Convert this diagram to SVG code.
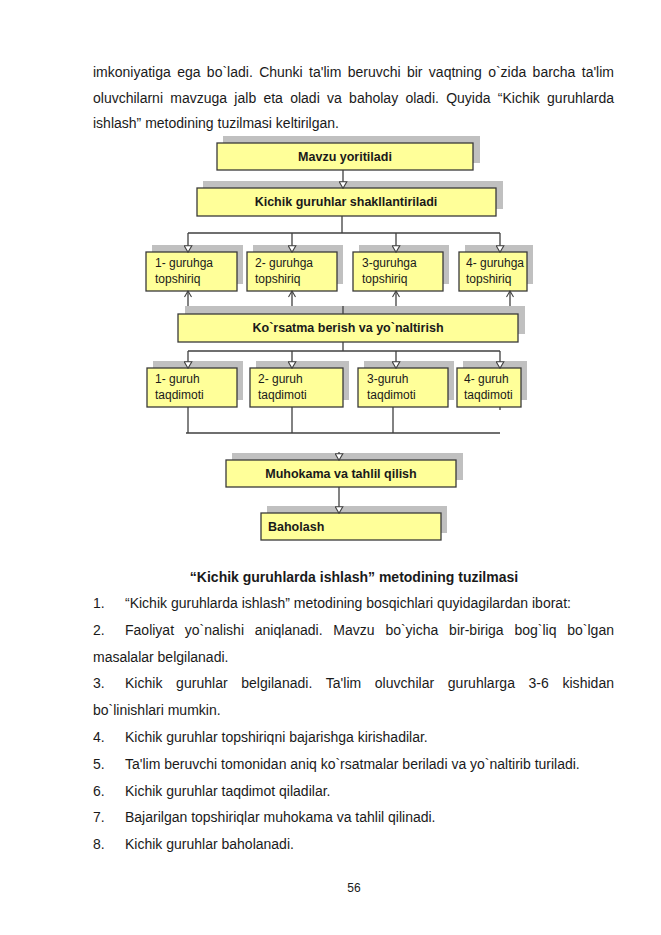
<svg xmlns="http://www.w3.org/2000/svg" width="661" height="935" viewBox="0 0 661 935">
<defs>
<style>
.bg{fill:#ffffff}
.sh{fill:#c0c0c0}
.bx{fill:#ffff99;stroke:#3a3a3a;stroke-width:1.3}
.hd{font-family:"Liberation Sans",Arial,sans-serif;font-size:12.5px;font-weight:bold;fill:#1a1a1a}
.lb{font-family:"Liberation Sans",Arial,sans-serif;font-size:12px;fill:#1a1a1a}
.tx{font-family:"Liberation Sans",Arial,sans-serif;font-size:14px;fill:#1a1a1a}
.cap{font-family:"Liberation Sans",Arial,sans-serif;font-size:14px;font-weight:bold;fill:#1a1a1a}
.ln{fill:none;stroke:#404040;stroke-width:1.3}
</style>
<marker id="ad" markerWidth="9" markerHeight="8" refX="4.5" refY="7" orient="0" markerUnits="userSpaceOnUse" viewBox="0 0 9 8">
<path d="M0.7,0.7 L8.3,0.7 L4.5,7.3 Z" fill="#ffffff" stroke="#404040" stroke-width="1.1"/>
</marker>
<marker id="au" markerWidth="9" markerHeight="8" refX="4.5" refY="1" viewBox="0 0 9 8" markerUnits="userSpaceOnUse" orient="0">
<path d="M1,7 L4.5,1 L8,7" fill="none" stroke="#404040" stroke-width="1.1"/>
</marker>
</defs>
<rect class="bg" x="0" y="0" width="661" height="935"/>

<g id="body-text">
<text class="tx" x="93" y="77" word-spacing="2.5" textLength="521" lengthAdjust="spacing">imkoniyatiga ega bo`ladi. Chunki ta'lim beruvchi bir vaqtning o`zida barcha ta'lim</text>
<text class="tx" x="93" y="103" word-spacing="3.4" textLength="521" lengthAdjust="spacing">oluvchilarni mavzuga jalb eta oladi va baholay oladi. Quyida “Kichik guruhlarda</text>
<text class="tx" x="93" y="128">ishlash” metodining tuzilmasi keltirilgan.</text>
</g>

<g id="n-mavzu">
<rect class="sh" x="223" y="136" width="257" height="27"/>
<rect class="bx" x="217" y="143" width="256" height="27"/>
<text class="hd" x="345" y="161" text-anchor="middle">Mavzu yoritiladi</text>
</g>
<g id="n-kichik">
<rect class="sh" x="203" y="181" width="300" height="28"/>
<rect class="bx" x="197" y="188" width="299" height="28"/>
<text class="hd" x="346" y="206" text-anchor="middle">Kichik guruhlar shakllantiriladi</text>
</g>

<g id="n-g1">
<rect class="sh" x="152" y="245" width="91" height="39"/>
<rect class="bx" x="146" y="252" width="91" height="39"/>
<text class="lb" x="155" y="267">1- guruhga</text>
<text class="lb" x="155" y="283">topshiriq</text>
</g>
<g id="n-g2">
<rect class="sh" x="253" y="245" width="90" height="39"/>
<rect class="bx" x="247" y="252" width="90" height="39"/>
<text class="lb" x="255" y="267">2- guruhga</text>
<text class="lb" x="255" y="283">topshiriq</text>
</g>
<g id="n-g3">
<rect class="sh" x="359" y="245" width="90" height="39"/>
<rect class="bx" x="353" y="252" width="90" height="39"/>
<text class="lb" x="362" y="267">3-guruhga</text>
<text class="lb" x="362" y="283">topshiriq</text>
</g>
<g id="n-g4">
<rect class="sh" x="465" y="245" width="68" height="39"/>
<rect class="bx" x="459" y="252" width="68" height="39"/>
<text class="lb" x="466" y="267">4- guruhga</text>
<text class="lb" x="466" y="283">topshiriq</text>
</g>

<g id="n-korsatma">
<rect class="sh" x="185" y="306" width="340" height="28"/>
<rect class="bx" x="178" y="314" width="340" height="28"/>
<text class="hd" x="348" y="332" text-anchor="middle">Ko`rsatma berish va yo`naltirish</text>
</g>

<g id="n-t1">
<rect class="sh" x="153" y="361" width="90" height="39"/>
<rect class="bx" x="147" y="368" width="90" height="39"/>
<text class="lb" x="155" y="383">1- guruh</text>
<text class="lb" x="155" y="399">taqdimoti</text>
</g>
<g id="n-t2">
<rect class="sh" x="256" y="361" width="93" height="39"/>
<rect class="bx" x="250" y="368" width="93" height="39"/>
<text class="lb" x="258" y="383">2- guruh</text>
<text class="lb" x="258" y="399">taqdimoti</text>
</g>
<g id="n-t3">
<rect class="sh" x="364" y="361" width="90" height="39"/>
<rect class="bx" x="358" y="368" width="90" height="39"/>
<text class="lb" x="367" y="383">3-guruh</text>
<text class="lb" x="367" y="399">taqdimoti</text>
</g>
<g id="n-t4">
<rect class="sh" x="463" y="361" width="64" height="39"/>
<rect class="bx" x="457" y="368" width="64" height="39"/>
<text class="lb" x="464" y="383">4- guruh</text>
<text class="lb" x="464" y="399">taqdimoti</text>
</g>

<g id="n-muhokama">
<rect class="sh" x="232" y="453" width="231" height="27"/>
<rect class="bx" x="226" y="460" width="230" height="27"/>
<text class="hd" x="341" y="478" text-anchor="middle">Muhokama va tahlil qilish</text>
</g>
<g id="n-baholash">
<rect class="sh" x="267" y="506" width="180" height="27"/>
<rect class="bx" x="261" y="513" width="180" height="27"/>
<text class="hd" x="268" y="531">Baholash</text>
</g>

<g id="connectors">
<path class="ln" d="M343,170 V188" marker-end="url(#ad)"/>
<path class="ln" d="M342,216 V233 M188,233 H500"/>
<path class="ln" d="M188,233 V252" marker-end="url(#ad)"/>
<path class="ln" d="M292,233 V252" marker-end="url(#ad)"/>
<path class="ln" d="M396,233 V252" marker-end="url(#ad)"/>
<path class="ln" d="M500,233 V252" marker-end="url(#ad)"/>
<path class="ln" d="M188,306 V291" marker-end="url(#au)"/>
<path class="ln" d="M292,306 V291" marker-end="url(#au)"/>
<path class="ln" d="M396,306 V291" marker-end="url(#au)"/>
<path class="ln" d="M510,306 V291" marker-end="url(#au)"/>
<path class="ln" d="M343,306 V314"/>
<path class="ln" d="M343,342 V351 M188,351 H500"/>
<path class="ln" d="M188,351 V368" marker-end="url(#ad)"/>
<path class="ln" d="M292,351 V368" marker-end="url(#ad)"/>
<path class="ln" d="M396,351 V368" marker-end="url(#ad)"/>
<path class="ln" d="M500,351 V368" marker-end="url(#ad)"/>
<path class="ln" d="M188,407 V433 M292,407 V433 M393,407 V433 M500,407 V410 M186,433 H500"/>
<path class="ln" d="M339,452 V460" marker-end="url(#ad)"/>
<path class="ln" d="M339,487 V513" marker-end="url(#ad)"/>
</g>

<g id="list-text">
<text class="cap" x="354" y="582" text-anchor="middle">“Kichik guruhlarda ishlash” metodining tuzilmasi</text>
<text class="tx" x="93" y="608">1.</text>
<text class="tx" x="125" y="608">“Kichik guruhlarda ishlash” metodining bosqichlari quyidagilardan iborat:</text>
<text class="tx" x="93" y="635">2.</text>
<text class="tx" x="125" y="635" word-spacing="6.9" textLength="489" lengthAdjust="spacing">Faoliyat yo`nalishi aniqlanadi. Mavzu bo`yicha bir-biriga bog`liq bo`lgan</text>
<text class="tx" x="93" y="662">masalalar belgilanadi.</text>
<text class="tx" x="93" y="688">3.</text>
<text class="tx" x="125" y="688" word-spacing="9.7" textLength="489" lengthAdjust="spacing">Kichik guruhlar belgilanadi. Ta'lim oluvchilar guruhlarga 3-6 kishidan</text>
<text class="tx" x="93" y="715">bo`linishlari mumkin.</text>
<text class="tx" x="93" y="742">4.</text>
<text class="tx" x="125" y="742">Kichik guruhlar topshiriqni bajarishga kirishadilar.</text>
<text class="tx" x="93" y="769">5.</text>
<text class="tx" x="125" y="769">Ta'lim beruvchi tomonidan aniq ko`rsatmalar beriladi va yo`naltirib turiladi.</text>
<text class="tx" x="93" y="796">6.</text>
<text class="tx" x="125" y="796">Kichik guruhlar taqdimot qiladilar.</text>
<text class="tx" x="93" y="822">7.</text>
<text class="tx" x="125" y="822">Bajarilgan topshiriqlar muhokama va tahlil qilinadi.</text>
<text class="tx" x="93" y="849">8.</text>
<text class="tx" x="125" y="849">Kichik guruhlar baholanadi.</text>
<text class="lb" x="354" y="892" text-anchor="middle">56</text>
</g>
</svg>
